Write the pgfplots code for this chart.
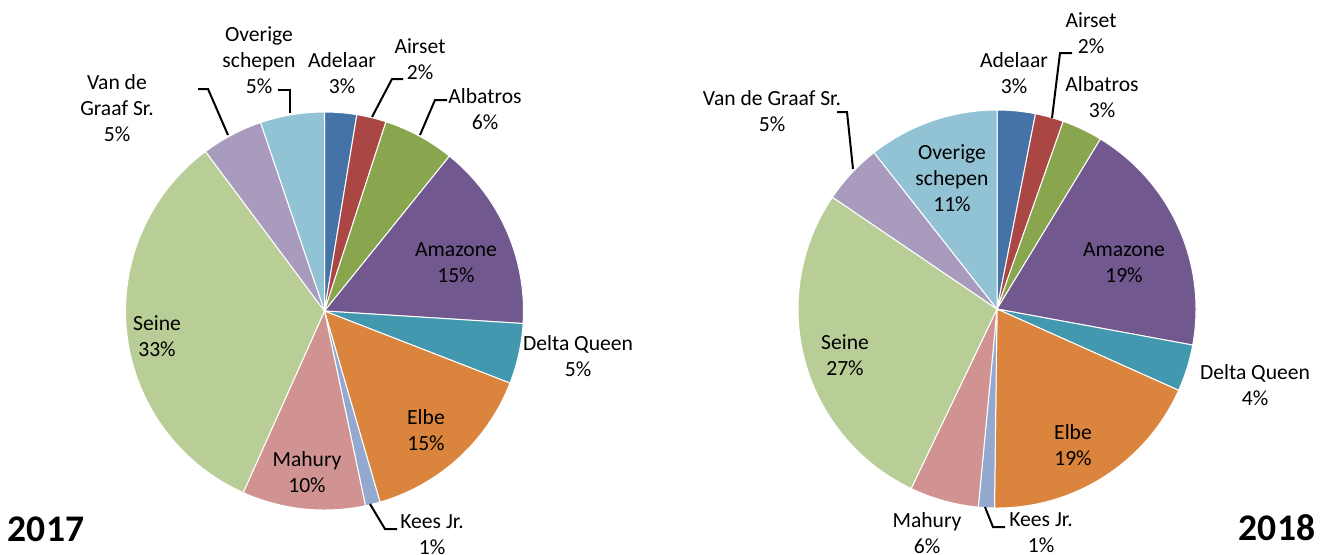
\documentclass[border=0pt]{standalone}
\usepackage{pgfplots}
\pgfplotsset{compat=1.18}
\usepackage{fontspec}
\setmainfont{Carlito}
\definecolor{cAdelaar}{HTML}{4572A7}
\definecolor{cAirset}{HTML}{AA4643}
\definecolor{cAlbatros}{HTML}{89A54E}
\definecolor{cAmazone}{HTML}{71588F}
\definecolor{cDelta}{HTML}{4198AF}
\definecolor{cElbe}{HTML}{DB843D}
\definecolor{cKees}{HTML}{93A9CF}
\definecolor{cMahury}{HTML}{D19392}
\definecolor{cSeine}{HTML}{B9CD96}
\definecolor{cGraaf}{HTML}{A99BBD}
\definecolor{cOverige}{HTML}{92C3D5}
\newcommand\lbl{\fontsize{10.8}{13}\selectfont}
\gdef\cum{0}
\newcommand\resetcum{\gdef\cum{0}}
% #1 cx, #2 cy, #3 share (%), #4 colour
\newcommand\slice[4]{%
  \pgfmathsetmacro\wa{3.6*\cum}%
  \pgfmathsetmacro\wb{3.6*(\cum+#3)}%
  \pgfmathsetmacro\newcum{\cum+#3}%
  \global\let\cum\newcum
  \edef\temp{\noexpand\addplot[fill=#4, draw=white, line width=0.5pt, domain=\wa:\wb, samples=80, forget plot] ({#1+199*sin(x)},{#2-199*cos(x)}) -- (axis cs:#1,#2) -- cycle;}%
  \temp
}
\begin{document}
\begin{tikzpicture}
\begin{axis}[
  at={(0,0)}, anchor=south west,
  scale only axis, width=664pt, height=277pt,
  xmin=0, xmax=1328, ymin=0, ymax=554, y dir=reverse,
  hide axis, clip=false,
]
% ---- 2017 ----
\resetcum
\slice{324.5}{311}{2.6}{cAdelaar}
\slice{324.5}{311}{2.4}{cAirset}
\slice{324.5}{311}{5.8}{cAlbatros}
\slice{324.5}{311}{15.2}{cAmazone}
\slice{324.5}{311}{4.9}{cDelta}
\slice{324.5}{311}{14.6}{cElbe}
\slice{324.5}{311}{1.2}{cKees}
\slice{324.5}{311}{10.0}{cMahury}
\slice{324.5}{311}{33.1}{cSeine}
\slice{324.5}{311}{5.0}{cGraaf}
\slice{324.5}{311}{5.2}{cOverige}
% ---- 2018 ----
\resetcum
\slice{997}{309}{3.1}{cAdelaar}
\slice{997}{309}{2.3}{cAirset}
\slice{997}{309}{3.3}{cAlbatros}
\slice{997}{309}{19.2}{cAmazone}
\slice{997}{309}{3.8}{cDelta}
\slice{997}{309}{18.5}{cElbe}
\slice{997}{309}{1.3}{cKees}
\slice{997}{309}{5.6}{cMahury}
\slice{997}{309}{27.4}{cSeine}
\slice{997}{309}{4.9}{cGraaf}
\slice{997}{309}{10.6}{cOverige}
% leader lines 2017
\addplot[black, line width=1pt, forget plot] coordinates {(290,113) (290,90) (278,90)};
\addplot[black, line width=1pt, forget plot] coordinates {(228,135) (208,89) (198,89)};
\addplot[black, line width=1pt, forget plot] coordinates {(372,117) (392,79) (403,79)};
\addplot[black, line width=1pt, forget plot] coordinates {(420,135) (435,100) (447,100)};
\addplot[black, line width=1pt, forget plot] coordinates {(370,504) (385,529) (397,529)};
% leader lines 2018
\addplot[black, line width=1pt, forget plot] coordinates {(853,169) (847,112) (837,112)};
\addplot[black, line width=1pt, forget plot] coordinates {(1052,118) (1060,53) (1072,53)};
\addplot[black, line width=1pt, forget plot] coordinates {(985,507) (993,527) (1005,527)};
% labels 2017
\node[align=center, font=\lbl] at (axis cs:259,60) {Overige\\schepen\\5\%};
\node[align=center, font=\lbl] at (axis cs:117,108) {Van de\\Graaf Sr.\\5\%};
\node[align=center, font=\lbl] at (axis cs:342,73) {Adelaar\\3\%};
\node[align=center, font=\lbl] at (axis cs:420,59) {Airset\\2\%};
\node[align=center, font=\lbl] at (axis cs:485,109) {Albatros\\6\%};
\node[align=center, font=\lbl] at (axis cs:456,263) {Amazone\\15\%};
\node[align=center, font=\lbl] at (axis cs:578,356) {Delta Queen\\5\%};
\node[align=center, font=\lbl] at (axis cs:426,430) {Elbe\\15\%};
\node[align=center, font=\lbl] at (axis cs:432,535) {Kees Jr.\\1\%};
\node[align=center, font=\lbl] at (axis cs:307,472) {Mahury\\10\%};
\node[align=center, font=\lbl] at (axis cs:157,336) {Seine\\33\%};
\node[font=\fontsize{18.8}{21}\selectfont\bfseries] at (axis cs:46,529) {2017};
% labels 2018
\node[align=center, font=\lbl] at (axis cs:772,111) {Van de Graaf Sr.\\5\%};
\node[align=center, font=\lbl] at (axis cs:1014,73) {Adelaar\\3\%};
\node[align=center, font=\lbl] at (axis cs:1091,33) {Airset\\2\%};
\node[align=center, font=\lbl] at (axis cs:1102,97) {Albatros\\3\%};
\node[align=center, font=\lbl] at (axis cs:952,178) {Overige\\schepen\\11\%};
\node[align=center, font=\lbl] at (axis cs:1124,263) {Amazone\\19\%};
\node[align=center, font=\lbl] at (axis cs:1255,385) {Delta Queen\\4\%};
\node[align=center, font=\lbl] at (axis cs:1073,445) {Elbe\\19\%};
\node[align=center, font=\lbl] at (axis cs:927,533) {Mahury\\6\%};
\node[align=center, font=\lbl] at (axis cs:1041,533) {Kees Jr.\\1\%};
\node[align=center, font=\lbl] at (axis cs:845,355) {Seine\\27\%};
\node[font=\fontsize{18.8}{21}\selectfont\bfseries] at (axis cs:1277,528) {2018};
\end{axis}
\pgfresetboundingbox
\path (0,0) rectangle (664pt,277pt);
\end{tikzpicture}
\end{document}
